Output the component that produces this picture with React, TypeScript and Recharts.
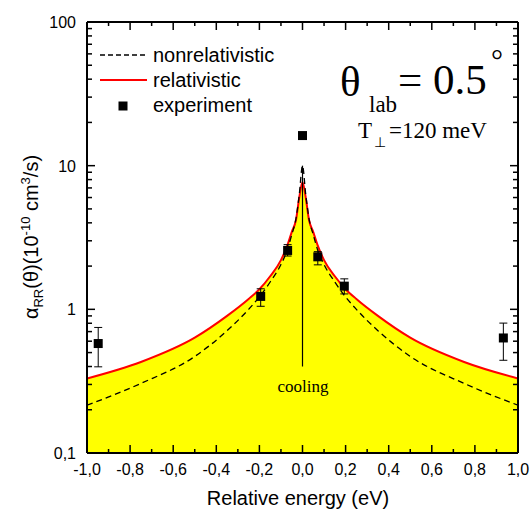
import React from 'react'
import {
    ComposedChart,
    Area,
    Line,
    Scatter,
    ErrorBar,
    XAxis,
    YAxis,
    ReferenceLine
} from "recharts";

// energy grid (eV) for the theory curves
const energies = [-1, -0.75, -0.5, -0.35, -0.25, -0.2, -0.15, -0.1, -0.07, -0.05, -0.03, -0.015, 0,
    0.015, 0.03, 0.05, 0.07, 0.1, 0.15, 0.2, 0.25, 0.35, 0.5, 0.75, 1];
const relativistic = [0.33, 0.43, 0.635, 0.9, 1.18, 1.38, 1.7, 2.2, 2.8, 3.45, 4.2, 6.0, 7.7,
    6.0, 4.2, 3.45, 2.8, 2.2, 1.7, 1.38, 1.18, 0.9, 0.635, 0.43, 0.33];
const nonrelativistic = [0.215, 0.305, 0.47, 0.71, 1.0, 1.22, 1.55, 2.05, 2.6, 3.3, 4.3, 6.3, 10,
    6.3, 4.3, 3.3, 2.6, 2.05, 1.55, 1.22, 1.0, 0.71, 0.47, 0.305, 0.215];

// experiment
const expEnergy = [-0.948, -0.194, -0.069, 0, 0.071, 0.194, 0.932];
const expRate = [0.578, 1.23, 2.57, 16.2, 2.32, 1.45, 0.632];
const expErrLow = [0.18, 0.18, 0.22, 0, 0.28, 0.17, 0.19];
const expErrHigh = [0.17, 0.16, 0.25, 0, 0.2, 0.18, 0.17];

const xTicks = [-1, -0.9, -0.8, -0.7, -0.6, -0.5, -0.4, -0.3, -0.2, -0.1, 0, 0.1, 0.2, 0.3, 0.4, 0.5, 0.6, 0.7, 0.8, 0.9, 1];
const yTicks = [0.1, 0.2, 0.3, 0.4, 0.5, 0.6, 0.7, 0.8, 0.9, 1, 2, 3, 4, 5, 6, 7, 8, 9, 10, 20, 30, 40, 50, 60, 70, 80, 90, 100];

const curveData = energies.map((x, i) => ({ x, rel: relativistic[i], nonrel: nonrelativistic[i] }));
const expData = expEnergy.map((x, i) => ({ x, y: expRate[i], err: [expErrLow[i], expErrHigh[i]] }));

const sans = "'Liberation Sans', Arial, sans-serif";
const serif = "'Liberation Serif', 'Times New Roman', serif";

const isMajorX = (v: number) => Math.round(v * 10) % 2 === 0;
const isMajorY = (v: number) => Math.abs(Math.log10(v) - Math.round(Math.log10(v))) < 1e-6;
const fmtX = (v: number) => (Math.abs(v) < 1e-9 ? 0 : v).toFixed(1).replace('.', ',');
const fmtY = (v: number) => (v < 1 ? String(v).replace('.', ',') : String(v));

const BottomTick = (props: any) => {
    const { x, y, payload } = props;
    const major = isMajorX(payload.value);
    return (
        <g>
            <line x1={x} x2={x} y1={y} y2={y - (major ? 8 : 4)} stroke="#000" strokeWidth={1.5} />
            {major && <text x={x} y={y + 22} textAnchor="middle" fontSize={16} fontFamily={sans} fill="#000">{fmtX(payload.value)}</text>}
        </g>
    )
}

const TopTick = (props: any) => {
    const { x, y, payload } = props;
    const major = isMajorX(payload.value);
    return <line x1={x} x2={x} y1={y} y2={y + (major ? 8 : 4)} stroke="#000" strokeWidth={1.5} />
}

const LeftTick = (props: any) => {
    const { x, y, payload } = props;
    const major = isMajorY(payload.value);
    return (
        <g>
            <line x1={x} x2={x + (major ? 8 : 5)} y1={y} y2={y} stroke="#000" strokeWidth={1.5} />
            {major && <text x={x - 11} y={y + 6} textAnchor="end" fontSize={16} fontFamily={sans} fill="#000">{fmtY(payload.value)}</text>}
        </g>
    )
}

const RightTick = (props: any) => {
    const { x, y, payload } = props;
    const major = isMajorY(payload.value);
    return <line x1={x} x2={x - (major ? 8 : 5)} y1={y} y2={y} stroke="#000" strokeWidth={1.5} />
}

const SquareDot = (props: any) => {
    const { cx, cy } = props;
    return <rect x={cx - 4.5} y={cy - 4.5} width={9} height={9} fill="#000" />
}

const App = () => {
    return (
        <div style={{ position: 'absolute', left: 0, top: 0, width: 531, height: 512, background: '#fff' }}>
            <ComposedChart width={531} height={512} data={curveData} margin={{ top: 0, right: 0, left: 0, bottom: 0 }}>
                <XAxis dataKey="x" type="number" domain={[-1, 1]} ticks={xTicks} interval={0} allowDataOverflow
                    height={59} tickSize={0} tickMargin={0} tickLine={false} tick={<BottomTick />}
                    axisLine={{ stroke: '#000', strokeWidth: 2 }} />
                <XAxis xAxisId="top" orientation="top" dataKey="x" type="number" domain={[-1, 1]} ticks={xTicks} interval={0}
                    allowDataOverflow height={22} tickSize={0} tickMargin={0} tickLine={false} tick={<TopTick />}
                    axisLine={{ stroke: '#000', strokeWidth: 2 }} />
                <YAxis scale="log" type="number" domain={[0.1, 100]} ticks={yTicks} interval={0} allowDataOverflow
                    width={87} tickSize={0} tickMargin={0} tickLine={false} tick={<LeftTick />}
                    axisLine={{ stroke: '#000', strokeWidth: 2 }} />
                <YAxis yAxisId="right" orientation="right" scale="log" type="number" domain={[0.1, 100]} ticks={yTicks}
                    interval={0} allowDataOverflow width={13} tickSize={0} tickMargin={0} tickLine={false} tick={<RightTick />}
                    axisLine={{ stroke: '#000', strokeWidth: 2 }} />
                <Area type="monotone" dataKey="rel" stroke="#ff0000" strokeWidth={2} fill="#ffff00" fillOpacity={1}
                    baseValue={0.1} isAnimationActive={false} dot={false} activeDot={false} />
                <Line type="monotone" dataKey="nonrel" stroke="#000" strokeWidth={1.3} strokeDasharray="6 4"
                    dot={false} activeDot={false} isAnimationActive={false} />
                <ReferenceLine segment={[{ x: 0, y: 0.4 }, { x: 0, y: 10 }]} stroke="#000" strokeWidth={1.2} />
                <Scatter data={expData} dataKey="y" fill="#000" shape={<SquareDot />} isAnimationActive={false}>
                    <ErrorBar dataKey="err" direction="y" width={4} stroke="#000" strokeWidth={1} />
                </Scatter>
            </ComposedChart>
            <svg width={531} height={512} style={{ position: 'absolute', left: 0, top: 0, pointerEvents: 'none' }}>
                {/* legend */}
                <line x1={100} x2={147} y1={55} y2={55} stroke="#000" strokeWidth={1.3} strokeDasharray="5 3" />
                <text x={153} y={62} fontSize={20} fontFamily={sans} fill="#000">nonrelativistic</text>
                <line x1={100} x2={147} y1={80} y2={80} stroke="#ff0000" strokeWidth={2} />
                <text x={153} y={87} fontSize={20} fontFamily={sans} fill="#000">relativistic</text>
                <rect x={118.5} y={101.5} width={9} height={9} fill="#000" />
                <text x={153} y={112} fontSize={20} fontFamily={sans} fill="#000">experiment</text>

                {/* annotations */}
                <text x={340} y={96} fontSize={43} fontFamily={serif} fill="#000">θ</text>
                <text x={369} y={112} fontSize={23} fontFamily={serif} fill="#000">lab</text>
                <text x={398} y={94} fontSize={43} fontFamily={serif} fill="#000">= 0.5</text>
                <text x={491} y={70} fontSize={30} fontFamily={serif} fill="#000">°</text>
                <text x={358} y={138} fontSize={23} fontFamily={serif} fill="#000">T</text>
                <text x={374} y={147} fontSize={14} fontFamily={serif} fill="#000">⊥</text>
                <text x={389} y={138} fontSize={23} fontFamily={serif} fill="#000">=120 meV</text>
                <text x={303} y={392} fontSize={17} fontFamily={serif} fill="#000" textAnchor="middle">cooling</text>

                {/* axis titles */}
                <text x={298} y={505} fontSize={20} fontFamily={sans} fill="#000" textAnchor="middle">Relative energy (eV)</text>
                <text transform="translate(38,237) rotate(-90)" textAnchor="middle" fontSize={20} fontFamily={sans} fill="#000">
                    α<tspan fontSize={13} dy={5}>RR</tspan><tspan dy={-5}>(θ)(10</tspan><tspan fontSize={13} dy={-8}>-10</tspan><tspan dy={8}> cm</tspan><tspan fontSize={13} dy={-8}>3</tspan><tspan dy={8}>/s)</tspan>
                </text>
            </svg>
        </div>
    )
}

export default App
